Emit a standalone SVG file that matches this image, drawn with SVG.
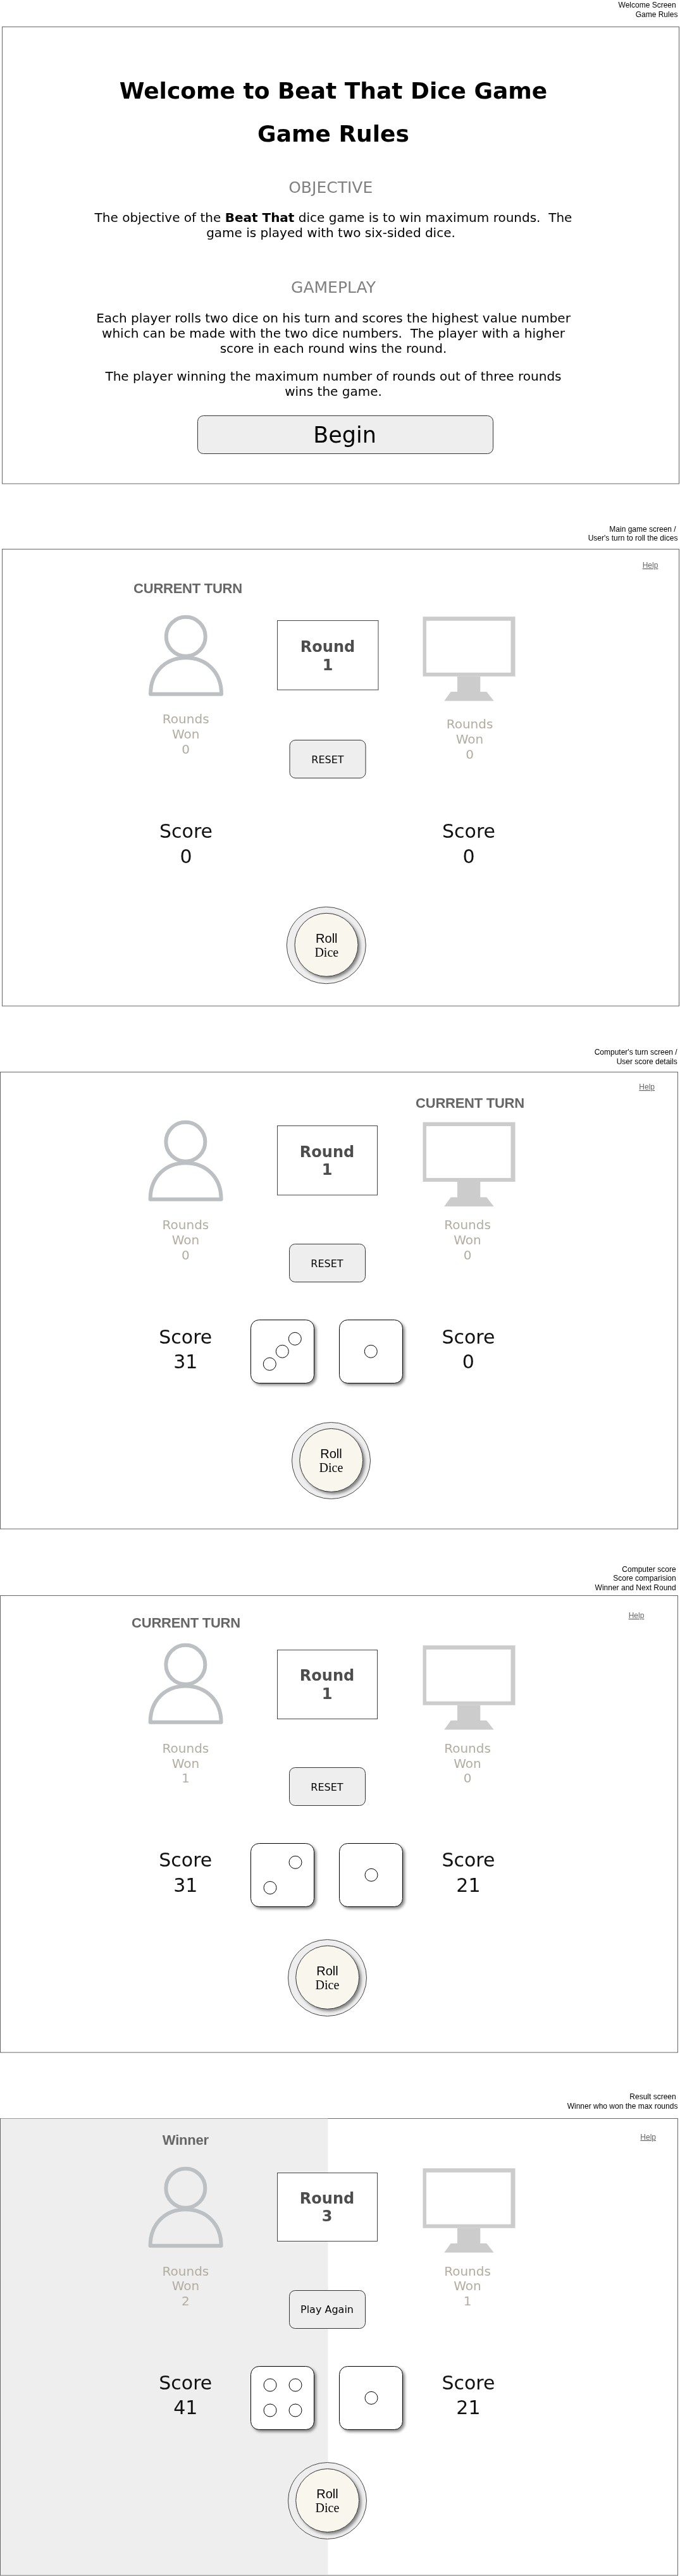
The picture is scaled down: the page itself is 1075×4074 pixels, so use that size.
<svg xmlns="http://www.w3.org/2000/svg" xmlns:xlink="http://www.w3.org/1999/xlink" width="1075" height="4074" viewBox="0 0 1075 4074">
<style>
text{font-family:"DejaVu Sans",Verdana,sans-serif;text-anchor:middle;fill:#000;white-space:pre}
.screen{opacity:.999}
.cap{font-family:"Liberation Sans",Arial,sans-serif;font-size:12px;text-anchor:end}
.help{font-family:"Liberation Sans",Arial,sans-serif;font-size:12px;fill:#666;text-decoration:underline}
.turn{font-family:"Liberation Sans",Arial,sans-serif;font-size:22px;font-weight:bold;fill:#666;letter-spacing:-.25px}
.frame{fill:#fff;stroke:#666;stroke-width:1}
.title{font-size:36px;font-weight:bold}
.head{font-size:25px;fill:#808080}
.body{font-size:20px}
.round{font-size:24px;font-weight:bold;fill:#4d4d4d}
.rbox{fill:#fff;stroke:#444;stroke-width:1}
.won{font-size:20px;fill:#b3ada1}
.btn{fill:#eee;stroke:#333;stroke-width:1}
.btxt{font-size:16px}
.score{font-size:30px;fill:#111}
.die{fill:#fff;stroke:#000;stroke-width:1;filter:url(#sh)}
.pip{fill:#fff;stroke:#000;stroke-width:1}
.outer{fill:#eee;stroke:#444;stroke-width:1}
.inner{fill:#f9f7ed;stroke:#333;stroke-width:1;filter:url(#sh)}
.roll{font-family:"Liberation Sans",Arial,sans-serif;font-size:20px}
.dice{font-family:"Liberation Serif","Times New Roman",serif;font-size:20px}
</style>
<defs>
<filter id="sh" x="-20%" y="-20%" width="150%" height="150%"><feDropShadow dx="3" dy="3" stdDeviation="2" flood-color="#000" flood-opacity="0.45"/></filter>
<g id="person" fill="none" stroke="#bcc0c3" stroke-width="6" stroke-linejoin="round"><circle cx="293.75" cy="1006.7" r="31"/><path d="M238,1097.7C238,1063 262,1040.3 293.75,1040.3C326,1040.3 350,1063 350,1097.7Z"/></g>
<g id="monitor" fill="#ccc"><path fill-rule="evenodd" d="M668.5,975.3H814.5V1069.7H668.5ZM674,981.7V1063.7H807.5V981.7Z"/><path d="M723,1069.7H759.3V1094H769.3L780.7,1108.5H702.3L712.7,1094H723Z"/></g>
</defs>

<g id="screen-welcome" class="screen">
<text class="cap" x="1068.7" y="12">Welcome Screen</text>
<text class="cap" x="1071.4" y="27">Game Rules</text>
<rect class="frame" x="3.5" y="42.5" width="1070" height="722.5"/>
<text class="title" x="527" y="156">Welcome to Beat That Dice Game</text>
<text class="title" x="527" y="223.5">Game Rules</text>
<text class="head" x="522.7" y="305">OBJECTIVE</text>
<text class="body" x="527" y="351">The objective of the <tspan font-weight="bold">Beat That</tspan> dice game is to win maximum rounds.  The</text>
<text class="body" x="523" y="375">game is played with two six-sided dice.</text>
<text class="head" x="527" y="463">GAMEPLAY</text>
<text class="body" x="527" y="509.5">Each player rolls two dice on his turn and scores the highest value number</text>
<text class="body" x="527" y="533.5">which can be made with the two dice numbers.  The player with a higher</text>
<text class="body" x="527" y="557.5">score in each round wins the round.</text>
<text class="body" x="527" y="601.5">The player winning the maximum number of rounds out of three rounds</text>
<text class="body" x="527" y="625.5">wins the game.</text>
<g id="begin-button"><rect class="btn" x="312.5" y="657.5" width="467" height="60" rx="9"/><text x="545" y="700" font-size="35">Begin</text></g>
</g>

<g id="screen-user-turn" class="screen">
<text class="cap" x="1068.7" y="840.5">Main game screen /</text>
<text class="cap" x="1071.4" y="855">User's turn to roll the dices</text>
<rect class="frame" x="3.5" y="868.5" width="1070" height="722.5"/>
<text class="help" x="1028" y="898">Help</text>
<text class="turn" x="297" y="937.5">CURRENT TURN</text>
<use id="user-icon-2" href="#person"/>
<use id="computer-icon-2" href="#monitor"/>
<g id="round-2"><rect class="rbox" x="438.5" y="981.5" width="159.5" height="109.5"/><text class="round" x="518" y="1031">Round</text><text class="round" x="518" y="1060">1</text></g>
<g id="user-won-2"><text class="won" x="293.7" y="1144">Rounds</text><text class="won" x="293.7" y="1168">Won</text><text class="won" x="293.7" y="1192">0</text></g>
<g id="computer-won-2"><text class="won" x="742.5" y="1152">Rounds</text><text class="won" x="742.5" y="1176">Won</text><text class="won" x="742.5" y="1200">0</text></g>
<g id="reset-2"><rect class="btn" x="458" y="1170.5" width="120" height="60" rx="9"/><text class="btxt" x="518" y="1207">RESET</text></g>
<g id="user-score-2"><text class="score" x="294" y="1324.5">Score</text><text class="score" x="294" y="1365">0</text></g>
<g id="computer-score-2"><text class="score" x="741" y="1324.5">Score</text><text class="score" x="741" y="1365">0</text></g>
<g id="roll-2"><ellipse class="outer" cx="515.8" cy="1495" rx="62.5" ry="60.7"/><circle class="inner" cx="516" cy="1494.3" r="50"/><text class="roll" x="516.3" y="1491">Roll</text><text class="dice" x="516.3" y="1512.7">Dice</text></g>
</g>

<g id="screen-computer-turn" class="screen">
<text class="cap" x="1070.7" y="1668">Computer's turn screen /</text>
<text class="cap" x="1070.7" y="1683.4">User score details</text>
<rect class="frame" x="0.5" y="1695.5" width="1071" height="722.5"/>
<text class="help" x="1022.7" y="1723">Help</text>
<text class="turn" x="743" y="1752">CURRENT TURN</text>
<use id="user-icon-3" href="#person" transform="translate(-0.4,799)"/>
<use id="computer-icon-3" href="#monitor" transform="translate(0,799.4)"/>
<g id="round-3"><rect class="rbox" x="438.5" y="1780.5" width="158" height="109.5"/><text class="round" x="517" y="1829.8">Round</text><text class="round" x="517" y="1858.4">1</text></g>
<g id="user-won-3"><text class="won" x="293.4" y="1944">Rounds</text><text class="won" x="293.4" y="1968">Won</text><text class="won" x="293.4" y="1991.5">0</text></g>
<g id="computer-won-3"><text class="won" x="739" y="1944">Rounds</text><text class="won" x="739" y="1968">Won</text><text class="won" x="739" y="1991.5">0</text></g>
<g id="reset-3"><rect class="btn" x="457.5" y="1967.5" width="120" height="60" rx="9"/><text class="btxt" x="517" y="2004">RESET</text></g>
<g id="user-score-3"><text class="score" x="293.3" y="2124.7">Score</text><text class="score" x="293.3" y="2164">31</text></g>
<g id="die-3a"><rect class="die" x="396.5" y="2087.5" width="100" height="100" rx="13"/><circle class="pip" cx="466.3" cy="2117.3" r="10"/><circle class="pip" cx="446.3" cy="2137.3" r="10"/><circle class="pip" cx="426.3" cy="2157.3" r="10"/></g>
<g id="die-3b"><rect class="die" x="536.5" y="2087.5" width="100" height="100" rx="13"/><circle class="pip" cx="586.3" cy="2137.3" r="10"/></g>
<g id="computer-score-3"><text class="score" x="740.4" y="2124.7">Score</text><text class="score" x="740.4" y="2164">0</text></g>
<g id="roll-3"><ellipse class="outer" cx="523.5" cy="2310" rx="62" ry="60.5"/><circle class="inner" cx="523.7" cy="2309.4" r="50"/><text class="roll" x="523.5" y="2305.7">Roll</text><text class="dice" x="523.5" y="2328">Dice</text></g>
</g>

<g id="screen-computer-score" class="screen">
<text class="cap" x="1068.7" y="2485.5">Computer score</text>
<text class="cap" x="1068.7" y="2500">Score comparision</text>
<text class="cap" x="1068.7" y="2514.6">Winner and Next Round</text>
<rect class="frame" x="0.5" y="2523.5" width="1071" height="722.5"/>
<text class="help" x="1006" y="2559">Help</text>
<text class="turn" x="294" y="2573.8">CURRENT TURN</text>
<use id="user-icon-4" href="#person" transform="translate(-0.4,1626.1)"/>
<use id="computer-icon-4" href="#monitor" transform="translate(0,1627)"/>
<g id="round-4"><rect class="rbox" x="438.5" y="2609.5" width="158" height="109"/><text class="round" x="517" y="2658">Round</text><text class="round" x="517" y="2686.5">1</text></g>
<g id="user-won-4"><text class="won" x="293.4" y="2771.7">Rounds</text><text class="won" x="293.4" y="2795.7">Won</text><text class="won" x="293.4" y="2819">1</text></g>
<g id="computer-won-4"><text class="won" x="739" y="2771.7">Rounds</text><text class="won" x="739" y="2795.7">Won</text><text class="won" x="739" y="2819">0</text></g>
<g id="reset-4"><rect class="btn" x="457.5" y="2795.5" width="120" height="60" rx="9"/><text class="btxt" x="517" y="2832">RESET</text></g>
<g id="user-score-4"><text class="score" x="293.3" y="2952.3">Score</text><text class="score" x="293.3" y="2991.5">31</text></g>
<g id="die-4a"><rect class="die" x="396.5" y="2915.5" width="100" height="100" rx="13"/><circle class="pip" cx="467" cy="2945.3" r="10"/><circle class="pip" cx="427" cy="2985.5" r="10"/></g>
<g id="die-4b"><rect class="die" x="536.5" y="2915.5" width="100" height="100" rx="13"/><circle class="pip" cx="587" cy="2965.3" r="10"/></g>
<g id="computer-score-4"><text class="score" x="740.4" y="2952.3">Score</text><text class="score" x="740.4" y="2991.5">21</text></g>
<g id="roll-4"><ellipse class="outer" cx="517.5" cy="3128" rx="62" ry="60.5"/><circle class="inner" cx="517.7" cy="3127.3" r="50"/><text class="roll" x="517.5" y="3123.6">Roll</text><text class="dice" x="517.5" y="3146">Dice</text></g>
</g>

<g id="screen-result" class="screen">
<text class="cap" x="1068.7" y="3319.5">Result screen</text>
<text class="cap" x="1071.4" y="3334.7">Winner who won the max rounds</text>
<rect class="frame" x="0.5" y="3350.5" width="1071" height="722.5"/>
<rect x="1" y="3351" width="517.5" height="722" fill="#eee"/>
<path d="M1,3350.5H518.5M1,4073H518.5" fill="none" stroke="#999" stroke-width="1"/>
<text class="help" x="1024.7" y="3383.8">Help</text>
<text class="turn" x="293.3" y="3392">Winner</text>
<use id="user-icon-5" href="#person" transform="translate(-0.4,2454)"/>
<use id="computer-icon-5" href="#monitor" transform="translate(0,2454)"/>
<g id="round-5"><rect class="rbox" x="438.5" y="3436.5" width="158" height="108"/><text class="round" x="517" y="3485">Round</text><text class="round" x="517" y="3513.4">3</text></g>
<g id="user-won-5"><text class="won" x="293.4" y="3598.5">Rounds</text><text class="won" x="293.4" y="3622.3">Won</text><text class="won" x="293.4" y="3646">2</text></g>
<g id="computer-won-5"><text class="won" x="739" y="3598.5">Rounds</text><text class="won" x="739" y="3622.3">Won</text><text class="won" x="739" y="3646">1</text></g>
<g id="play-again"><rect class="btn" x="457.5" y="3622.5" width="120" height="60" rx="9"/><text class="btxt" x="517" y="3658">Play Again</text></g>
<g id="user-score-5"><text class="score" x="293.3" y="3778.7">Score</text><text class="score" x="293.3" y="3817.7">41</text></g>
<g id="die-5a"><rect class="die" x="396.5" y="3742.5" width="100" height="100" rx="13"/><circle class="pip" cx="427" cy="3772" r="10"/><circle class="pip" cx="467" cy="3772" r="10"/><circle class="pip" cx="427" cy="3812" r="10"/><circle class="pip" cx="467" cy="3812" r="10"/></g>
<g id="die-5b"><rect class="die" x="536.5" y="3742.5" width="100" height="100" rx="13"/><circle class="pip" cx="587" cy="3792.4" r="10"/></g>
<g id="computer-score-5"><text class="score" x="740.4" y="3778.7">Score</text><text class="score" x="740.4" y="3817.7">21</text></g>
<g id="roll-5"><ellipse class="outer" cx="517.5" cy="3955" rx="62" ry="60.5"/><circle class="inner" cx="517.7" cy="3954.5" r="50"/><text class="roll" x="517.5" y="3950.8">Roll</text><text class="dice" x="517.5" y="3973">Dice</text></g>
</g>
</svg>
